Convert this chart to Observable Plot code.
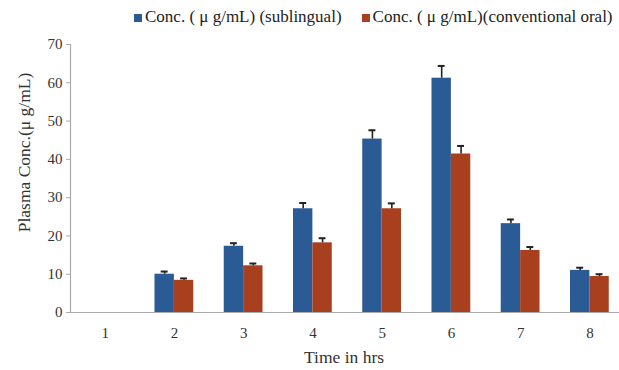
<!DOCTYPE html>
<html>
<head>
<meta charset="utf-8">
<script src="https://cdn.jsdelivr.net/npm/d3@7"></script>
<script src="https://cdn.jsdelivr.net/npm/@observablehq/plot@0.6"></script>
<style>
  body { margin: 0; background: #fff; }
  #wrap { position: relative; width: 619px; height: 370px; overflow: hidden; font-family: "Liberation Serif", "DejaVu Serif", serif; }
  #legend { position: absolute; top: 7px; left: 134px; font-size: 17px; color: #222; white-space: nowrap; display: flex; }
  #legend span.sw { display: inline-block; width: 8px; height: 8px; margin-right: 3px; position: relative; top: 1px; }
  #legend .item { display: flex; align-items: center; }
</style>
</head>
<body>
<div id="wrap">
  <div id="legend"></div>
  <div id="chart"></div>
</div>
<script>
const times = [1, 2, 3, 4, 5, 6, 7, 8];
const seriesNames = ["Conc. ( μ g/mL) (sublingual)", "Conc. ( μ g/mL)(conventional oral)"];
const sublingual = [0, 10.0, 17.3, 27.1, 45.3, 61.2, 23.2, 11.0];
const sublingualErr = [0, 0.7, 0.8, 1.5, 2.3, 3.2, 1.1, 0.7];
const oral = [0, 8.4, 12.2, 18.2, 27.1, 41.4, 16.2, 9.4];
const oralErr = [0, 0.5, 0.6, 1.2, 1.4, 2.1, 0.9, 0.6];
const yTicks = [0, 10, 20, 30, 40, 50, 60, 70];
const colors = ["#2b5b94", "#a8401f"];

const barW = 0.28;
const rows = [];
times.forEach((t, i) => {
  if (sublingual[i] > 0) rows.push({t, s: 0, v: sublingual[i], e: sublingualErr[i], x1: t - barW, x2: t});
  if (oral[i] > 0) rows.push({t, s: 1, v: oral[i], e: oralErr[i], x1: t, x2: t + barW});
});
rows.forEach(d => { d.xc = (d.x1 + d.x2) / 2; d.top = d.v + d.e; d.series = seriesNames[d.s]; });

const font = "Liberation Serif, DejaVu Serif, serif";

const chart = Plot.plot({
  width: 619,
  height: 370,
  marginLeft: 70,
  marginRight: 0,
  marginTop: 44,
  marginBottom: 58,
  style: { fontFamily: font, fontSize: "15px", color: "#333", background: "#fff" },
  x: { domain: [0.5, 8.5], range: [70, 624] },
  y: { domain: [0, 70], range: [312, 44] },
  color: { domain: seriesNames, range: colors },
  marks: [
    Plot.rectY(rows, { x1: "x1", x2: "x2", y1: 0, y2: "v", fill: "series", inset: 0 }),
    Plot.ruleX(rows, { x: "xc", y1: "v", y2: "top", stroke: "#222", strokeWidth: 1.6 }),
    Plot.ruleY(rows, { y: "top", x1: d => d.xc - 0.05, x2: d => d.xc + 0.05, stroke: "#222", strokeWidth: 2 }),
    Plot.ruleX([0.5], { y1: 0, y2: 70, stroke: "#aaa", strokeWidth: 1.2 }),
    Plot.ruleY([0], { stroke: "#aaa", strokeWidth: 1.2 }),
    Plot.axisY({ ticks: yTicks, tickSize: 4, tickPadding: 4, stroke: "#aaa", fill: "#333", fontSize: 15, label: null }),
    Plot.axisX({ ticks: times, tickSize: 0, tickPadding: 15, fill: "#333", fontSize: 15, label: null }),
    Plot.text(["Time in hrs"], { frameAnchor: "bottom", dy: 50, dx: -1, text: d => d, fontSize: 17.5, fill: "#333" }),
    Plot.text(["Plasma Conc.(μ g/mL)"], { frameAnchor: "left", textAnchor: "middle", dx: -46, dy: -26, rotate: -90, text: d => d, fontSize: 17.5, fill: "#333" })
  ]
});
document.getElementById("chart").appendChild(chart);

const legend = document.getElementById("legend");
seriesNames.forEach((name, i) => {
  const item = document.createElement("div");
  item.className = "item";
  item.style.marginRight = i === 0 ? "20px" : "0";
  const sw = document.createElement("span");
  sw.className = "sw";
  sw.style.background = colors[i];
  item.appendChild(sw);
  item.appendChild(document.createTextNode(name));
  legend.appendChild(item);
});
</script>
</body>
</html>
